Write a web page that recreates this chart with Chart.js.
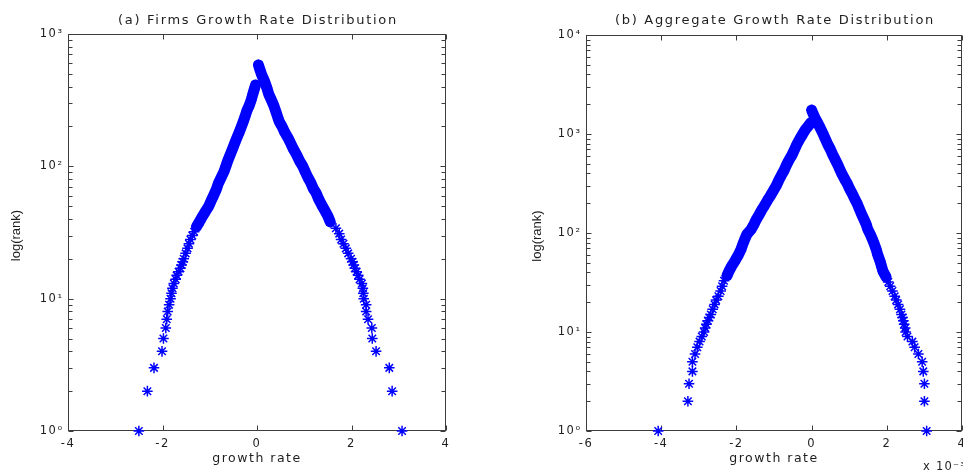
<!DOCTYPE html>
<html><head><meta charset="utf-8">
<script src="https://cdn.jsdelivr.net/npm/chart.js@4.4.1/dist/chart.umd.min.js"></script>
<style>
html,body{margin:0;padding:0;background:#fff;overflow:hidden;width:963px;height:471px;}
#wrap{position:relative;width:963px;height:471px;overflow:hidden;background:#fff;}
#c1{position:absolute;left:0;top:0;}
#c2{position:absolute;left:514px;top:0;}
</style></head><body>
<div id="wrap">
<canvas id="c1" width="514" height="471"></canvas>
<canvas id="c2" width="520" height="471"></canvas>
</div>
<script>
// ---------- (a) Firms growth rate distribution ----------
const firmsNegRank = [1,2,3,4,5,6,7,8,9,10,11,12,13,14,15,16,17,18,19,20,22,24,26,28,30,32,35,38,41,45,50,55,60,67,74,82,91,100,110,122,135,150,163,180,200,218,240,265,291,320,350,380,412];
const firmsNegRate = [-2.50,-2.32,-2.18,-2.01,-1.98,-1.93,-1.91,-1.89,-1.86,-1.83,-1.81,-1.79,-1.76,-1.72,-1.70,-1.66,-1.62,-1.60,-1.57,-1.55,-1.51,-1.47,-1.44,-1.41,-1.37,-1.33,-1.28,-1.22,-1.17,-1.10,-1.02,-0.97,-0.92,-0.86,-0.82,-0.76,-0.70,-0.66,-0.62,-0.57,-0.52,-0.47,-0.43,-0.38,-0.33,-0.29,-0.25,-0.21,-0.16,-0.12,-0.09,-0.06,-0.03];
const firmsPosRank = [1,2,3,4,5,6,7,8,9,10,11,12,13,14,15,16,17,18,19,20,22,24,26,28,31,34,38,42,46,51,57,63,68,75,82,91,100,110,122,135,150,163,180,200,218,240,265,291,320,350,390,440,491,540,584];
const firmsPosRate = [3.07,2.86,2.80,2.52,2.44,2.43,2.35,2.31,2.31,2.26,2.25,2.24,2.22,2.17,2.14,2.11,2.07,2.05,2.02,1.99,1.93,1.88,1.83,1.78,1.74,1.67,1.55,1.50,1.44,1.37,1.30,1.25,1.19,1.14,1.08,1.02,0.97,0.90,0.84,0.77,0.71,0.66,0.59,0.53,0.47,0.43,0.39,0.35,0.30,0.25,0.21,0.16,0.10,0.06,0.03];
const firmsXTicks = [-4,-2,0,2,4];
const firmsXLabels = ['-4','-2','0','2','4'];
const firmsYTicks = [1,10,100,1000];
const firmsYLabels = ['10\u2070','10\u00B9','10\u00B2','10\u00B3'];

// ---------- (b) Aggregate growth rate distribution (rates in units of 10^-3) ----------
const aggNegRank = [1,2,3,4,5,6,7,8,9,10,11,12,13,14,15,17,19,21,23,26,29,33,37,41,46,53,60,68,77,86,97,110,123,135,152,170,190,215,240,270,305,343,385,430,485,546,615,690,775,871,980,1100,1230,1300];
const aggNegRate = [-4.08,-3.29,-3.26,-3.17,-3.17,-3.10,-3.04,-2.98,-2.92,-2.86,-2.83,-2.80,-2.76,-2.72,-2.68,-2.63,-2.58,-2.54,-2.48,-2.42,-2.38,-2.33,-2.25,-2.20,-2.13,-2.03,-1.95,-1.88,-1.83,-1.78,-1.72,-1.60,-1.53,-1.48,-1.40,-1.33,-1.25,-1.17,-1.09,-1.01,-0.93,-0.87,-0.80,-0.73,-0.67,-0.60,-0.52,-0.46,-0.40,-0.33,-0.25,-0.17,-0.07,-0.02];
const aggPosRank = [1,2,3,4,5,6,7,8,9,10,11,12,13,14,15,17,19,21,23,26,29,32,36,41,46,52,60,68,77,86,97,110,123,138,155,175,195,220,250,280,315,350,400,467,540,620,700,800,900,1016,1150,1300,1450,1600,1745];
const aggPosRate = [3.06,3.00,3.00,2.97,2.94,2.84,2.74,2.68,2.55,2.50,2.49,2.46,2.44,2.42,2.39,2.35,2.30,2.25,2.21,2.15,2.09,2.04,1.98,1.90,1.86,1.82,1.76,1.72,1.67,1.62,1.56,1.49,1.45,1.39,1.33,1.27,1.22,1.15,1.08,1.01,0.95,0.88,0.80,0.72,0.64,0.56,0.50,0.42,0.36,0.30,0.23,0.16,0.09,0.04,0.00];
const aggXTicks = [-6,-4,-2,0,2,4];
const aggXLabels = ['-6','-4','-2','0','2','4'];
const aggYTicks = [1,10,100,1000,10000];
const aggYLabels = ['10\u2070','10\u00B9','10\u00B2','10\u00B3','10\u2074'];

const BLUE = '#0000ff';
const INK = '#1e1e1e';
const FONT = '"DejaVu Sans", Verdana, sans-serif';
const VFONT = '"Liberation Sans", Arial, sans-serif';
const BAND_MIN_RANK = 35;

function pts(ranks, rates) { return ranks.map((r, i) => ({x: rates[i], y: r})); }
function bandPts(ranks, rates) { return pts(ranks, rates).filter(p => p.y >= BAND_MIN_RANK); }

const inkPlugin = {
  id: 'ink',
  beforeDraw(chart) { chart.ctx.letterSpacing = '1.5px'; },
  beforeDatasetsDraw(chart, args, o) {
    const ctx = chart.ctx;
    const {left, right, top, bottom} = chart.chartArea;
    const xs = chart.scales.x, ys = chart.scales.y;
    ctx.save();
    ctx.strokeStyle = '#3c3c3c';
    ctx.lineWidth = 1;
    const L = Math.round(left) + 0.5, R = Math.round(right) - 0.5, T = Math.round(top) + 0.5, B = Math.round(bottom) - 0.5;
    ctx.strokeRect(L, T, R - L, B - T);
    ctx.beginPath();
    o.xTicks.forEach(v => {
      const px = Math.round(xs.getPixelForValue(v)) + 0.5;
      ctx.moveTo(px, B); ctx.lineTo(px, B - 5);
      ctx.moveTo(px, T); ctx.lineTo(px, T + 5);
    });
    const yMax = o.yTicks[o.yTicks.length - 1];
    o.yTicks.forEach(v => {
      const py = Math.round(ys.getPixelForValue(v)) + 0.5;
      ctx.moveTo(L, py); ctx.lineTo(L + 5, py);
      ctx.moveTo(R, py); ctx.lineTo(R - 5, py);
      for (let m = 2; m <= 9; m++) {
        const mv = v * m;
        if (mv >= yMax) break;
        const my = Math.round(ys.getPixelForValue(mv)) + 0.5;
        ctx.moveTo(L, my); ctx.lineTo(L + 4, my);
        ctx.moveTo(R, my); ctx.lineTo(R - 4, my);
      }
    });
    ctx.stroke();
    ctx.restore();
  },
  afterDraw(chart, args, o) {
    const ctx = chart.ctx;
    const {left, right, top, bottom} = chart.chartArea;
    ctx.save();
    ctx.fillStyle = INK;
    ctx.textBaseline = 'middle';
    ctx.textAlign = 'center';
    ctx.letterSpacing = '1.7px';
    ctx.font = '13px ' + FONT;
    ctx.fillText(o.title, (left + right) / 2 + 1, 20.5);
    ctx.restore();
    ctx.save();
    ctx.fillStyle = INK;
    ctx.textBaseline = 'middle';
    ctx.textAlign = 'center';
    ctx.letterSpacing = '0px';
    ctx.font = '13px ' + VFONT;
    ctx.translate(left - o.yTitleGap, (top + bottom) / 2 + 3);
    ctx.rotate(-Math.PI / 2);
    ctx.fillText(o.yTitle, 0, 0);
    ctx.restore();
    if (o.multiplier) {
      ctx.save();
      ctx.fillStyle = INK;
      ctx.textBaseline = 'alphabetic';
      ctx.textAlign = 'right';
      ctx.letterSpacing = '1.2px';
      ctx.font = '11.5px ' + FONT;
      ctx.fillText(o.multiplier, right + 4, 470);
      ctx.restore();
    }
  }
};

function makeChart(id, cfg) {
  const starDs = (data) => ({
    data, showLine: false, pointStyle: 'star', pointRadius: 5.3, pointHoverRadius: 5.3,
    borderColor: BLUE, backgroundColor: BLUE, pointBorderWidth: 1.5, clip: false
  });
  const bandDs = (data) => ({
    data, showLine: true, pointRadius: 0, borderColor: BLUE, borderWidth: 11,
    borderJoinStyle: 'round', borderCapStyle: 'round', fill: false, tension: 0, clip: false
  });
  return new Chart(document.getElementById(id), {
    type: 'scatter',
    data: {
      datasets: [
        bandDs(bandPts(cfg.negRank, cfg.negRate)),
        bandDs(bandPts(cfg.posRank, cfg.posRate)),
        starDs(pts(cfg.negRank, cfg.negRate)),
        starDs(pts(cfg.posRank, cfg.posRate))
      ]
    },
    plugins: [inkPlugin],
    options: {
      responsive: false,
      animation: false,
      devicePixelRatio: 1,
      events: [],
      layout: {padding: {top: cfg.padTop, right: cfg.padRight, left: 0, bottom: 0}},
      plugins: {
        legend: {display: false},
        tooltip: {enabled: false},
        ink: {title: cfg.title, yTitle: 'log(rank)', yTitleGap: cfg.yTitleGap,
              xTicks: cfg.xTicks, yTicks: cfg.yTicks, multiplier: cfg.multiplier}
      },
      scales: {
        x: {
          type: 'linear', position: 'bottom',
          min: cfg.xTicks[0], max: cfg.xTicks[cfg.xTicks.length - 1],
          afterBuildTicks: s => { s.ticks = cfg.xTicks.map(v => ({value: v})); },
          afterFit: s => { s.height = 40; },
          grid: {display: false, drawTicks: false},
          border: {display: false},
          ticks: {autoSkip: false, maxRotation: 0, padding: 6, color: INK,
                  font: {family: FONT, size: 11.5},
                  callback: (v, i) => cfg.xLabels[i]},
          title: {display: true, text: 'growth rate', color: INK,
                  font: {family: FONT, size: 12.5}, padding: {top: 0, bottom: 5}}
        },
        y: {
          type: 'logarithmic', position: 'left',
          min: cfg.yTicks[0], max: cfg.yTicks[cfg.yTicks.length - 1],
          afterBuildTicks: s => { s.ticks = cfg.yTicks.map(v => ({value: v})); },
          afterFit: s => { s.width = cfg.yWidth; },
          grid: {display: false, drawTicks: false},
          border: {display: false},
          ticks: {autoSkip: false, padding: 4.5, color: INK,
                  font: {family: FONT, size: 11.5},
                  callback: (v, i) => cfg.yLabels[i]},
          title: {display: false}
        }
      }
    }
  });
}

makeChart('c1', {
  title: '(a) Firms Growth Rate Distribution',
  negRank: firmsNegRank, negRate: firmsNegRate, posRank: firmsPosRank, posRate: firmsPosRate,
  xTicks: firmsXTicks, xLabels: firmsXLabels, yTicks: firmsYTicks, yLabels: firmsYLabels,
  padTop: 34, padRight: 68, yWidth: 68, yTitleGap: 52, multiplier: null
});
makeChart('c2', {
  title: '(b) Aggregate Growth Rate Distribution',
  negRank: aggNegRank, negRate: aggNegRate, posRank: aggPosRank, posRate: aggPosRate,
  xTicks: aggXTicks, xLabels: aggXLabels, yTicks: aggYTicks, yLabels: aggYLabels,
  padTop: 35, padRight: 72, yWidth: 72, yTitleGap: 49, multiplier: 'x 10\u207B\u00B3'
});
</script>
</body></html>
